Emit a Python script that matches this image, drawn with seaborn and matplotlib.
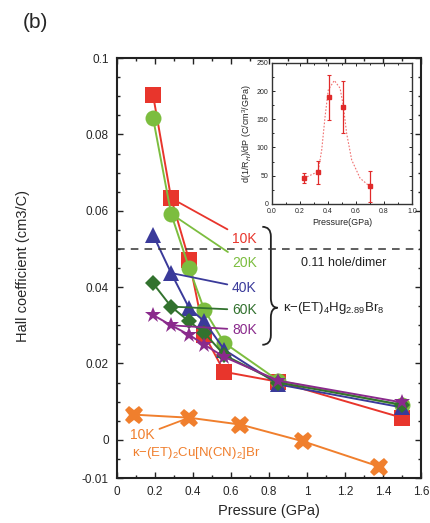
import pandas as pd
import matplotlib
matplotlib.use('Agg')
from matplotlib import pyplot as plt
from matplotlib.path import Path
from matplotlib.patches import PathPatch
from matplotlib.ticker import MultipleLocator, FuncFormatter
import seaborn as sns

# main panel: Hall coefficient vs pressure, kappa-(ET)4Hg2.89Br8
pressure_hg = [0.19, 0.285, 0.38, 0.46, 0.565, 0.85, 1.5]
hall_10k = [0.0903, 0.0633, 0.047, 0.0275, 0.0178, 0.0152, 0.0058]
hall_20k = [0.0843, 0.0592, 0.045, 0.034, 0.0254, 0.0155, 0.009]
hall_40k = [0.0537, 0.0437, 0.0345, 0.031, 0.0236, 0.0145, 0.0085]
hall_60k = [0.041, 0.0349, 0.031, 0.028, 0.0222, 0.015, 0.0092]
hall_80k = [0.0327, 0.030, 0.0275, 0.0249, 0.0217, 0.0155, 0.0098]
temp_labels = ['10K', '20K', '40K', '60K', '80K']
label_y = [0.0527, 0.0463, 0.0398, 0.0340, 0.0288]

# kappa-(ET)2Cu[N(CN)2]Br at 10K
pressure_cu = [0.09, 0.38, 0.65, 0.98, 1.38]
hall_cu = [0.0066, 0.0058, 0.004, -0.0004, -0.007]

# inset: d(1/RH)/dP
inset_p = [0.23, 0.33, 0.41, 0.505, 0.70]
inset_v = [46, 56, 189, 172, 31]
inset_err = [9, 20, 40, 46, 28]
curve_p = [0.229, 0.329, 0.355, 0.379, 0.402, 0.445, 0.486, 0.510, 0.533, 0.569, 0.629, 0.700]
curve_v = [45.6, 57.3, 95.7, 154.9, 202.1, 218.6, 205, 172.6, 125, 78, 45.6, 30.7]

sns.set_style('ticks')
plt.rcParams['font.family'] = ['Liberation Sans', 'DejaVu Sans']
plt.rcParams['mathtext.fontset'] = 'custom'
plt.rcParams['mathtext.rm'] = 'Liberation Sans'

colors = ['#e8352c', '#7cbd3f', '#3a3a9a', '#32722e', '#8a2a8c']
markers = ['s', 'o', '^', 'D', '*']
msizes = [11, 11.5, 11, 8.5, 12]
orange = '#f07f2d'

fig = plt.figure(figsize=(4.3, 5.23), dpi=100)
ax = fig.add_axes([0.272, 0.086, 0.707, 0.803])

series = [hall_10k, hall_20k, hall_40k, hall_60k, hall_80k]
for vals, c, m, ms in zip(series, colors, markers, msizes):
    df = pd.DataFrame({'P': pressure_hg, 'R': vals})
    sns.lineplot(data=df, x='P', y='R', ax=ax, color=c, marker=m, markersize=ms,
                 markeredgewidth=0, lw=1.4, sort=False, legend=False)

df_cu = pd.DataFrame({'P': pressure_cu, 'R': hall_cu})
sns.lineplot(data=df_cu, x='P', y='R', ax=ax, color=orange, marker='X', markersize=13,
             markeredgewidth=0, lw=1.4, sort=False, legend=False)

# temperature labels with leader lines
leader_idx = [1, 1, 1, 1, 1]
for vals, c, lab, ly, i in zip(series, colors, temp_labels, label_y, leader_idx):
    ax.annotate(lab, xy=(pressure_hg[i], vals[i]), xytext=(0.605, ly),
                color=c, fontsize=10, va='center', ha='left',
                arrowprops=dict(arrowstyle='-', color=c, lw=1.3, shrinkA=1, shrinkB=0))

ax.annotate('10K', xy=(pressure_cu[1], hall_cu[1]), xytext=(0.07, 0.0012),
            color=orange, fontsize=10, va='center', ha='left',
            arrowprops=dict(arrowstyle='-', color=orange, lw=1.3, shrinkA=1, shrinkB=0))
ax.text(0.08, -0.0035, r'κ−(ET)$_2$Cu[N(CN)$_2$]Br', color=orange, fontsize=9.5,
        va='center', ha='left')

# 0.11 hole/dimer line
ax.axhline(0.05, color='#333333', ls=(0, (5, 4)), lw=1.1)
ax.text(0.97, 0.0463, '0.11 hole/dimer', fontsize=9, va='center', ha='left', color='#222222')

# curly brace
xl, xs, xt = 0.765, 0.81, 0.845
y1, ym, y0 = 0.0558, 0.0346, 0.0249
r = 0.0025
verts = [(xl, y1), (xs, y1), (xs, y1 - r), (xs, ym + r), (xs, ym), (xt, ym),
         (xs, ym), (xs, ym - r), (xs, y0 + r), (xs, y0), (xl, y0)]
codes = [Path.MOVETO, Path.CURVE3, Path.CURVE3, Path.LINETO, Path.CURVE3, Path.CURVE3,
         Path.CURVE3, Path.CURVE3, Path.LINETO, Path.CURVE3, Path.CURVE3]
ax.add_patch(PathPatch(Path(verts, codes), fill=False, lw=1.3, color='#222222'))
ax.text(0.875, ym, r'κ−(ET)$_4$Hg$_{2.89}$Br$_8$', fontsize=9.5, va='center', ha='left',
        color='#222222')

ax.set_xlim(0, 1.6)
ax.set_ylim(-0.01, 0.1)
ax.set_xticks([0, 0.2, 0.4, 0.6, 0.8, 1.0, 1.2, 1.4, 1.6])
ax.set_yticks([-0.01, 0, 0.02, 0.04, 0.06, 0.08, 0.1])
ax.xaxis.set_minor_locator(MultipleLocator(0.1))
ax.yaxis.set_minor_locator(MultipleLocator(0.005))
ax.xaxis.set_major_formatter(FuncFormatter(lambda v, p: f'{v:g}'))
ax.yaxis.set_major_formatter(FuncFormatter(lambda v, p: f'{v:g}'))
ax.tick_params(which='both', direction='in', top=True, right=True, labelsize=8.5,
               width=1.0, color='#222222')
ax.tick_params(which='major', length=4, pad=6)
ax.tick_params(which='minor', length=2)
for s in ax.spines.values():
    s.set_linewidth(1.5)
    s.set_color('#222222')
ax.set_xlabel('Pressure (GPa)', fontsize=10.5)
ax.set_ylabel('Hall coefficient (cm3/C)', fontsize=10.5)
ax.xaxis.set_label_coords(0.5, -0.063)
ax.yaxis.set_label_coords(-0.285, 0.505)

fig.text(0.052, 0.957, '(b)', fontsize=15, va='center', ha='left')

# inset
ins = fig.add_axes([0.6326, 0.610, 0.3256, 0.270])
sns.lineplot(x=curve_p, y=curve_v, ax=ins, color='#f07070', lw=0.8, ls=(0, (1.5, 1.5)),
             sort=False, legend=False)
ins.errorbar(inset_p, inset_v, yerr=inset_err, fmt='s', color='#e02a2a', ms=3.5,
             elinewidth=0.9, capsize=1.2, capthick=0.8)
ins.set_xlim(0, 1.0)
ins.set_ylim(0, 250)
ins.xaxis.set_major_locator(MultipleLocator(0.2))
ins.xaxis.set_minor_locator(MultipleLocator(0.1))
ins.yaxis.set_major_locator(MultipleLocator(50))
ins.yaxis.set_minor_locator(MultipleLocator(25))
ins.xaxis.set_major_formatter(FuncFormatter(lambda v, p: f'{v:.1f}'))
ins.tick_params(which='both', direction='in', top=True, right=True, labelsize=5,
                width=0.7)
ins.tick_params(axis='x', pad=3)
ins.tick_params(axis='y', pad=2.5)
ins.tick_params(which='major', length=2.5)
ins.tick_params(which='minor', length=1.3)
for s in ins.spines.values():
    s.set_linewidth(1.0)
    s.set_color('#333333')
ins.set_xlabel('Pressure(GPa)', fontsize=6.5, labelpad=2)
ins.set_ylabel(r'd(1/R$_H$)/dP (C/cm$^3$/GPa)', fontsize=6.5, labelpad=2)

fig.savefig('out.png', dpi=100)
